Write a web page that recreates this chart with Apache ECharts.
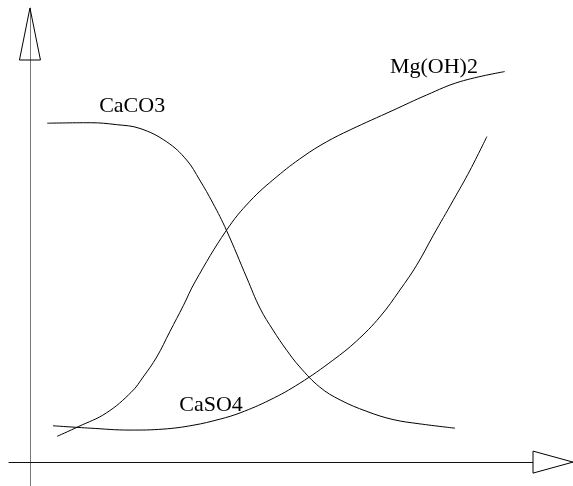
<!DOCTYPE html>
<html>
<head>
<meta charset="utf-8">
<style>
  html, body { margin: 0; padding: 0; background: #fff; }
  #chart { width: 573px; height: 486px; }
</style>
<script src="https://cdn.jsdelivr.net/npm/echarts@6/dist/echarts.min.js"></script>
</head>
<body>
<div id="chart"></div>
<script>
// Solubility curves (arbitrary units), x = pH-like axis, y = amount
const caco3X = [3.3, 11.5, 16.5, 21.0, 26.1, 29.9, 32.4, 34.9, 37.5, 41.4, 43.9, 46.4, 49.0, 51.5, 55.3, 59.2, 64.3, 69.3, 74.4, 81.1];
const caco3Y = [70.9, 71.0, 70.6, 69.8, 67.0, 63.2, 59.0, 54.2, 48.5, 38.5, 32.2, 27.6, 23.4, 19.9, 15.7, 13.0, 10.6, 8.9, 8.0, 7.1];

const mgohX = [5.2, 9.2, 14.6, 19.4, 21.6, 24.2, 26.7, 29.3, 31.5, 37.5, 42.0, 47.1, 52.1, 56.6, 61.1, 69.3, 75.7, 82.1, 90.6];
const mgohY = [5.4, 7.4, 10.3, 14.7, 17.8, 22.0, 27.3, 32.8, 37.7, 48.5, 54.6, 59.7, 63.9, 67.0, 69.5, 73.6, 76.8, 79.6, 81.7];

const caso4X = [4.4, 11.5, 19.1, 25.4, 31.1, 36.3, 40.1, 45.8, 51.5, 57.8, 62.3, 66.8, 70.6, 73.8, 77.0, 80.8, 84.0, 87.2];
const caso4Y = [7.6, 7.1, 6.7, 6.9, 7.7, 9.0, 10.3, 13.0, 16.5, 21.3, 25.3, 30.4, 36.0, 41.2, 47.5, 54.8, 61.1, 68.1];

// Curve names and where their labels sit (data space)
const curveNames = ['CaCO3', 'Mg(OH)2', 'CaSO4'];
const labelAnchors = [[13.2, 74.4], [68.7, 82.6], [28.5, 12.0]];

const xMin = -4, xMax = 96, yMin = -5, yMax = 95;

const zip = (xs, ys) => xs.map((x, i) => [x, ys[i]]);
const seriesData = [zip(caco3X, caco3Y), zip(mgohX, mgohY), zip(caso4X, caso4Y)];

const chart = echarts.init(document.getElementById('chart'), null, { renderer: 'canvas' });

chart.setOption({
  animation: false,
  backgroundColor: '#ffffff',
  grid: { left: 9, right: 40, top: 8, bottom: 0, containLabel: false },
  xAxis: {
    type: 'value', min: xMin, max: xMax,
    axisLine: { show: true, onZero: true, lineStyle: { color: '#111', width: 1 } },
    axisTick: { show: false }, axisLabel: { show: false }, splitLine: { show: false }
  },
  yAxis: {
    type: 'value', min: yMin, max: yMax,
    axisLine: { show: true, onZero: true, lineStyle: { color: '#777', width: 1 } },
    axisTick: { show: false }, axisLabel: { show: false }, splitLine: { show: false }
  },
  series: seriesData.map((d, i) => ({
    name: curveNames[i],
    type: 'line',
    data: d,
    smooth: 0.4,
    showSymbol: false,
    symbol: 'none',
    lineStyle: { color: '#000', width: 1 },
    z: 3
  }))
});

// Open arrowheads at the ends of both axes, plus the curve labels
const yTip = chart.convertToPixel({ gridIndex: 0 }, [0, yMax]);
const xEnd = chart.convertToPixel({ gridIndex: 0 }, [xMax, 0]);

const graphics = [
  {
    type: 'polygon',
    shape: { points: [[yTip[0], yTip[1]], [yTip[0] - 10.5, yTip[1] + 52], [yTip[0] + 10.5, yTip[1] + 52]] },
    style: { fill: 'rgba(0,0,0,0)', stroke: '#000', lineWidth: 1 },
    z: 10
  },
  {
    type: 'polygon',
    shape: { points: [[xEnd[0], xEnd[1] - 11], [xEnd[0] + 40, xEnd[1]], [xEnd[0], xEnd[1] + 11]] },
    style: { fill: '#fff', stroke: '#000', lineWidth: 1 },
    z: 10
  }
];

curveNames.forEach((name, i) => {
  const p = chart.convertToPixel({ gridIndex: 0 }, labelAnchors[i]);
  graphics.push({
    type: 'text',
    x: p[0], y: p[1],
    style: {
      text: name,
      fill: '#000',
      font: '22px "Liberation Serif", "DejaVu Serif", serif',
      align: 'left',
      verticalAlign: 'middle'
    },
    z: 10
  });
});

chart.setOption({ graphic: graphics });
</script>
</body>
</html>
